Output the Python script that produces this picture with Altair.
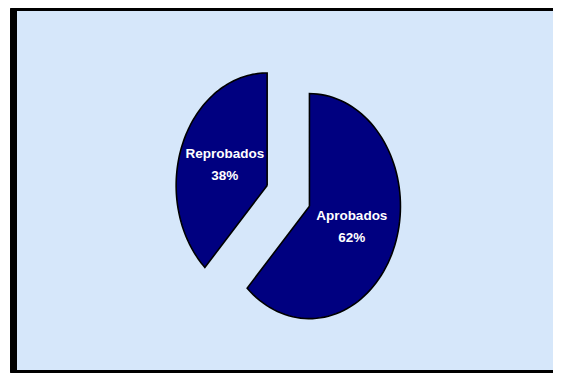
import altair as alt
import pandas as pd

# ---- data ----
categories = ["Aprobados", "Reprobados"]
values = [62, 38]
order = [1, 2]

df = pd.DataFrame({"category": categories, "value": values, "order": order})

# ---- styling / layout constants (pixels in the plot area) ----
W, H = 545, 365
CX, CY = 280.3, 187.8     # ellipse centre
RX, RY = 91.0, 112.5      # ellipse radii
D = 0.25                  # explode fraction
N = 90                    # arc resolution
NAVY = "#000080"
BG = "#d6e7fa"

xs = alt.Scale(domain=[0, W], nice=False, zero=False)
ys = alt.Scale(domain=[0, H], nice=False, zero=False, reverse=True)

base = (
    alt.Chart(df)
    .transform_joinaggregate(total="sum(value)")
    .transform_window(cum="sum(value)", sort=[alt.SortField("order")], frame=[None, 0])
    .transform_calculate(
        a0="2*PI*(datum.cum-datum.value)/datum.total",
        a1="2*PI*datum.cum/datum.total",
    )
    .transform_calculate(mid="(datum.a0+datum.a1)/2")
    .transform_calculate(
        ox=f"{D}*{RX}*sin(datum.mid)",
        oy=f"-{D}*{RY}*cos(datum.mid)",
    )
)

slices = (
    base.transform_calculate(k=f"sequence(0, {N + 2})")
    .transform_flatten(["k"])
    .transform_calculate(
        ang=f"datum.a0 + clamp((datum.k-1)/({N}-1), 0, 1)*(datum.a1-datum.a0)"
    )
    .transform_calculate(
        px=f"(datum.k==0 || datum.k=={N + 1}) ? {CX}+datum.ox : {CX}+datum.ox+{RX}*sin(datum.ang)",
        py=f"(datum.k==0 || datum.k=={N + 1}) ? {CY}+datum.oy : {CY}+datum.oy-{RY}*cos(datum.ang)",
    )
    .mark_line(fill=NAVY, stroke="black", strokeWidth=1.6, strokeJoin="miter", interpolate="linear")
    .encode(
        x=alt.X("px:Q", scale=xs, axis=None),
        y=alt.Y("py:Q", scale=ys, axis=None),
        detail="category:N",
        order="k:Q",
    )
)

labels = (
    base.transform_calculate(
        lx=f"{CX}+datum.ox+0.5*{RX}*sin(datum.mid)",
        ly=f"{CY}+datum.oy-0.5*{RY}*cos(datum.mid)",
        label="datum.category + '\\n' + round(100*datum.value/datum.total) + '%'",
    )
    .mark_text(
        color="white",
        font="Liberation Sans",
        fontSize=13.5,
        fontWeight="bold",
        lineBreak="\n",
        lineHeight=22,
        align="center",
        baseline="middle",
        dy=-11,
    )
    .encode(
        x=alt.X("lx:Q", scale=xs, axis=None),
        y=alt.Y("ly:Q", scale=ys, axis=None),
        text="label:N",
    )
)

frame = alt.Chart(df).mark_rect(
    fill=BG, stroke="black", strokeWidth=7, cornerRadius=3
).encode(
    x=alt.value(5.5), x2=alt.value(W + 3.5), y=alt.value(-0.5), y2=alt.value(H + 0.5)
)

chart = (
    alt.layer(frame, slices, labels)
    .properties(width=W, height=H, padding=0, autosize="none", background="white")
    .configure_view(stroke=None)
)

chart.save("out.html", embed_options={"renderer": "svg", "actions": False})
